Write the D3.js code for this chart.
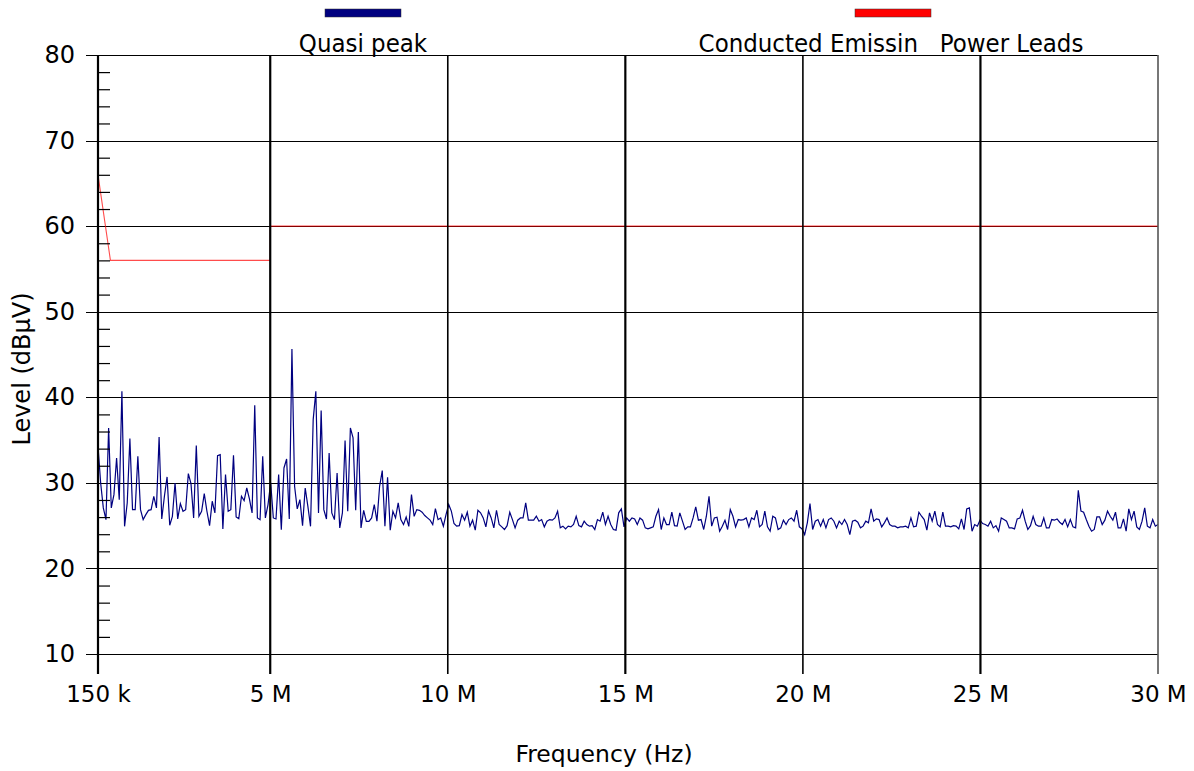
<!DOCTYPE html>
<html>
<head>
<meta charset="utf-8">
<script src="https://cdn.jsdelivr.net/npm/d3@7"></script>
<style>
  html, body { margin: 0; padding: 0; background: #fff; }
  svg text { font-family: "DejaVu Sans", Verdana, sans-serif; fill: #000; }
  .legend text { font-family: "DejaVu Sans Condensed", "DejaVu Sans", sans-serif; white-space: pre; }
</style>
</head>
<body>
<svg id="chart" width="1194" height="771"></svg>
<script>
'use strict';

// sweep 150 kHz .. 30 MHz, one reading per step (MHz)
var freqStart = 0.15,
    freqStop = 30;

// quasi peak readings, dBµV
var quasiPeak = [
  34.27, 29.99, 27.07, 25.70, 36.42, 27.07, 28.62, 32.91, 28.04, 40.70,
  24.92, 27.65, 35.17, 26.87, 26.87, 33.10, 26.87, 25.70, 26.29, 26.79,
  26.87, 28.43, 27.07, 35.36, 25.78, 28.43, 30.69, 25.04, 26.09, 29.99,
  25.78, 27.57, 26.68, 26.87, 31.08, 29.91, 25.90, 34.35, 26.09, 26.68,
  28.74, 26.68, 25.00, 27.85, 26.48, 33.18, 33.30, 24.61, 30.96, 26.68,
  26.87, 33.22, 26.01, 25.82, 28.43, 27.92, 29.40, 28.12, 26.48, 39.07,
  25.90, 25.70, 33.10, 25.90, 27.46, 30.00, 25.90, 25.78, 30.96, 24.53,
  31.74, 32.79, 25.78, 45.65, 29.60, 26.95, 28.04, 25.00, 29.40, 27.26,
  24.92, 37.39, 40.70, 26.48, 38.44, 26.87, 25.78, 33.49, 26.48, 25.70,
  31.16, 24.73, 26.48, 34.94, 26.68, 36.42, 35.25, 26.79, 35.95, 24.73,
  26.79, 25.51, 25.51, 25.90, 27.46, 25.51, 29.60, 31.43, 24.92, 30.65,
  24.46, 26.68, 25.90, 27.65, 25.70, 25.12, 26.01, 24.92, 28.62, 26.09,
  26.87, 26.79, 26.57, 26.18, 25.91, 25.64, 25.13, 27.00, 25.70, 25.90,
  24.94, 26.30, 27.47, 26.70, 25.25, 24.94, 25.00, 26.30, 25.64, 26.57,
  24.94, 25.64, 24.47, 26.80, 26.50, 25.90, 24.86, 26.70, 25.90, 24.74,
  26.80, 25.13, 24.86, 24.55, 25.00, 26.57, 25.70, 24.74, 25.64, 25.90,
  25.90, 27.66, 25.64, 25.64, 25.64, 26.10, 25.52, 25.71, 24.86, 25.52,
  25.71, 25.64, 25.90, 26.69, 24.74, 24.94, 24.62, 24.94, 24.86, 25.13,
  26.10, 25.00, 24.86, 25.52, 25.13, 24.94, 25.00, 24.55, 25.71, 25.52,
  26.57, 25.13, 26.10, 25.13, 24.55, 24.47, 26.50, 26.96, 24.86, 25.90,
  25.52, 25.90, 25.79, 25.13, 25.90, 25.64, 24.74, 24.62, 24.74, 24.86,
  26.10, 26.88, 24.55, 25.90, 25.13, 25.13, 26.57, 25.00, 24.94, 26.50,
  25.52, 24.55, 24.86, 24.86, 25.90, 27.20, 25.64, 25.71, 24.55, 26.10,
  28.44, 24.94, 25.90, 25.99, 24.35, 24.94, 25.64, 24.55, 26.88, 26.10,
  24.86, 25.71, 25.64, 25.71, 25.90, 24.86, 25.90, 25.71, 26.80, 24.86,
  25.13, 26.69, 24.86, 24.35, 26.10, 25.90, 24.55, 24.74, 25.64, 25.13,
  25.71, 25.90, 25.52, 26.80, 24.86, 24.62, 23.96, 25.33, 27.58, 24.55,
  25.52, 25.71, 24.94, 25.71, 24.74, 25.71, 25.90, 25.52, 24.74, 25.52,
  25.13, 25.71, 25.13, 23.96, 25.52, 25.64, 25.40, 24.74, 24.94, 25.52,
  25.33, 26.96, 25.52, 25.79, 25.71, 24.86, 25.33, 25.90, 25.13, 24.94,
  24.94, 24.74, 24.86, 24.86, 24.94, 24.74, 25.90, 24.86, 24.94, 26.57,
  26.10, 25.71, 24.47, 26.50, 25.52, 26.69, 25.13, 24.86, 26.57, 24.94,
  24.94, 24.86, 25.00, 24.94, 24.62, 25.79, 24.55, 26.96, 27.08, 24.35,
  25.13, 24.94, 25.64, 25.25, 25.13, 24.94, 25.52, 24.74, 25.00, 24.35,
  25.90, 25.71, 25.52, 24.74, 24.74, 24.62, 25.79, 25.90, 26.80, 25.52,
  24.55, 25.00, 26.10, 25.13, 24.94, 24.94, 25.90, 24.74, 24.74, 25.71,
  25.64, 25.79, 25.40, 25.13, 25.71, 24.86, 25.71, 24.86, 24.74, 29.14,
  26.69, 26.57, 25.71, 24.94, 24.35, 24.55, 26.03, 26.03, 25.13, 25.64,
  26.69, 26.10, 25.64, 26.57, 24.74, 24.74, 25.79, 24.35, 26.96, 25.71,
  26.69, 24.86, 24.55, 25.52, 27.08, 24.94, 24.74, 25.71, 24.94, 25.13
];

// conducted emission limit (power leads), MHz / dBµV
var limitFreq = [0.15, 0.5, 5, 5, 30],
    limitLevel = [66, 56, 56, 60, 60];

var xTicks = [0.15, 5, 10, 15, 20, 25, 30],
    xTickLabels = ['150 k', '5 M', '10 M', '15 M', '20 M', '25 M', '30 M'],
    yTicks = [10, 20, 30, 40, 50, 60, 70, 80],
    yMinorTicks = d3.range(12, 80, 2).filter(function (v) { return v % 10 !== 0; });

var legendNames = ['Quasi peak', 'Conducted Emissin   Power Leads'],
    legendColors = ['#000080', '#ff0000'];

var svg = d3.select('#chart'),
    plot = { left: 98, right: 1158, top: 55, bottom: 654 };

var x = d3.scaleLinear().domain([freqStart, freqStop]).range([plot.left, plot.right]),
    y = d3.scaleLinear().domain([10, 80]).range([plot.bottom, plot.top]);

var levelLine = d3.line()
  .x(function (d) { return x(d[0]); })
  .y(function (d) { return y(d[1]); });

// horizontal grid, running out past the axis as the major tick
svg.append('g').selectAll('line')
  .data(yTicks)
  .enter().append('line')
  .attr('x1', plot.left - 12)
  .attr('x2', plot.right)
  .attr('y1', function (d) { return Math.round(y(d)) + 0.5; })
  .attr('y2', function (d) { return Math.round(y(d)) + 0.5; })
  .attr('stroke', '#000')
  .attr('stroke-width', 1.2);

// limit line
svg.append('path')
  .datum(limitFreq.map(function (f, i) { return [f, limitLevel[i]]; }))
  .attr('d', levelLine)
  .attr('fill', 'none')
  .attr('stroke', legendColors[1])
  .attr('stroke-opacity', 0.7)
  .attr('stroke-width', 1.1);

// measured trace
var step = (freqStop - freqStart) / (quasiPeak.length - 1);
svg.append('path')
  .datum(quasiPeak.map(function (v, i) { return [freqStart + i * step, v]; }))
  .attr('d', levelLine)
  .attr('fill', 'none')
  .attr('stroke', legendColors[0])
  .attr('stroke-width', 1.2)
  .attr('stroke-linejoin', 'miter');

// vertical grid, down through the axis as the major tick
svg.append('g').selectAll('line')
  .data(xTicks)
  .enter().append('line')
  .attr('x1', function (d) { return x(d); })
  .attr('x2', function (d) { return x(d); })
  .attr('y1', plot.top)
  .attr('y2', plot.bottom + 20)
  .attr('stroke', function (d, i) { return i === xTicks.length - 1 ? '#555' : '#000'; })
  .attr('stroke-width', function (d, i) { return i === 0 ? 2 : (i % 2 ? 2.2 : 1.6); });

// y minor ticks point into the plot
var minorAxis = d3.axisRight(y).tickValues(yMinorTicks).tickSize(12).tickFormat('');
svg.append('g')
  .attr('transform', 'translate(' + plot.left + ',0)')
  .call(minorAxis)
  .call(function (g) {
    g.select('.domain').remove();
    g.selectAll('line').attr('stroke', '#000').attr('stroke-width', 1.2);
  });

// y labels
svg.append('g')
  .attr('transform', 'translate(' + (plot.left - 23) + ',0)')
  .call(d3.axisLeft(y).tickValues(yTicks).tickSize(0).tickPadding(0))
  .call(function (g) {
    g.select('.domain').remove();
    g.selectAll('text')
      .attr('font-size', 24)
      .attr('font-family', '"DejaVu Sans", sans-serif')
      .attr('fill', '#000');
  });

// x labels
svg.append('g')
  .attr('transform', 'translate(0,' + (plot.bottom + 32) + ')')
  .call(d3.axisBottom(x).tickValues(xTicks).tickSize(0).tickPadding(0)
    .tickFormat(function (d, i) { return xTickLabels[i]; }))
  .call(function (g) {
    g.select('.domain').remove();
    g.selectAll('text')
      .attr('font-size', 23)
      .attr('font-family', '"DejaVu Sans", sans-serif')
      .attr('fill', '#000');
  });

// axis line
svg.append('line')
  .attr('x1', plot.left).attr('x2', plot.left)
  .attr('y1', plot.top).attr('y2', plot.bottom + 20)
  .attr('stroke', '#000')
  .attr('stroke-width', 2.2);

// axis titles
svg.append('text')
  .attr('x', 604)
  .attr('y', 762)
  .attr('text-anchor', 'middle')
  .attr('font-size', 23.5)
  .text('Frequency (Hz)');

svg.append('text')
  .attr('transform', 'translate(30,369) rotate(-90)')
  .attr('text-anchor', 'middle')
  .attr('font-size', 24)
  .text('Level (dBµV)');

// legend: a swatch over each name
var legendX = [363, 893];
var legend = svg.append('g').attr('class', 'legend');
legend.selectAll('rect')
  .data(legendNames)
  .enter().append('rect')
  .attr('x', function (d, i) { return legendX[i] - 38; })
  .attr('y', 9)
  .attr('width', 76)
  .attr('height', 8)
  .attr('fill', function (d, i) { return legendColors[i]; })
  .attr('stroke', '#333')
  .attr('stroke-width', 0.5);

legend.selectAll('text')
  .data(legendNames)
  .enter().append('text')
  .attr('x', function (d, i) { return i === 0 ? legendX[i] : 891; })
  .attr('y', 52)
  .attr('text-anchor', 'middle')
  .attr('font-size', 25.5)
  .text(function (d) { return d; });
</script>
</body>
</html>
